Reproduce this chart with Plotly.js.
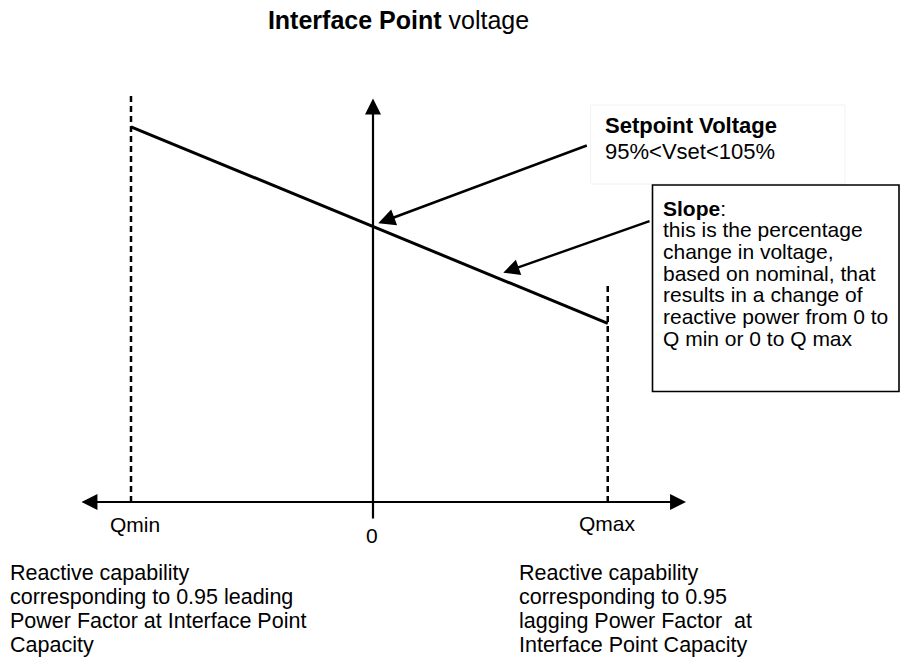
<!DOCTYPE html>
<html>
<head>
<meta charset="utf-8">
<script src="https://cdn.plot.ly/plotly-3.0.1.min.js"></script>
<style>html,body{margin:0;padding:0;background:#fff;}#chart{width:901px;height:661px;}</style>
</head>
<body>
<div id="chart"></div>
<script>
// ---- data (schematic units: Q normalised to |Qmin| = 1, V normalised to Vset = 1) ----
const qPoints = [-1, 0, 0.97];          // Qmin, 0, Qmax
const vPoints = [1.363, 1.0, 0.649];    // voltage on droop line
const qLimits = [-1, 0.97];             // Qmin, Qmax guide positions
const guideTops = [1.478, 0.788];       // top of dashed guides
const axisLabels = ['Qmin', '0', 'Qmax'];
const titleText = '<b>Interface Point</b> voltage';
const setpointLines = ['<b>Setpoint Voltage</b>', '95%&lt;Vset&lt;105%'];
const slopeLines = ['<b>Slope</b>:', 'this is the percentage', 'change in voltage,',
  'based on nominal, that', 'results in a change of', 'reactive power from 0 to', 'Q min or 0 to Q max'];
const leftNote = ['Reactive capability', 'corresponding to 0.95 leading', 'Power Factor at Interface Point', 'Capacity'];
const rightNote = ['Reactive capability', 'corresponding to 0.95', 'lagging Power Factor  at', 'Interface Point Capacity'];

const W = 901, H = 661;
const px = x => x / W;
const py = y => 1 - y / H;
const FONT = 'Liberation Sans, Arial, sans-serif';

const traces = [
  { x: qPoints, y: vPoints, mode: 'lines', line: { color: '#000', width: 3 }, hoverinfo: 'skip' },
  { x: [qLimits[0], qLimits[0]], y: [0, guideTops[0]], mode: 'lines', line: { color: '#000', width: 2.5, dash: '6px,4px' }, hoverinfo: 'skip' },
  { x: [qLimits[1], qLimits[1]], y: [0, guideTops[1]], mode: 'lines', line: { color: '#000', width: 2.5, dash: '6px,4px' }, hoverinfo: 'skip' }
];

const ann = [];
function txt(text, x, y, size, anchor) {
  ann.push({ text: text, xref: 'paper', yref: 'paper', x: px(x), y: py(y), xanchor: anchor || 'left', yanchor: 'middle',
    showarrow: false, borderpad: 0, borderwidth: 0, font: { family: FONT, size: size, color: '#000' } });
}
function arrow(x, y, ax, ay, width, size, side) {
  ann.push({ text: '', x: x, y: y, ax: ax, ay: ay, xref: 'x', yref: 'y', axref: 'x', ayref: 'y',
    showarrow: true, arrowhead: 2, arrowsize: size, arrowwidth: width, arrowcolor: '#000',
    arrowside: side || 'end', standoff: 0, startstandoff: 0, startarrowhead: 2, startarrowsize: size });
}
// axes
arrow(1.2934, 0, -1.2107, 0, 2.2, 1.45, 'end+start');
arrow(0, 1.4657, 0, -0.0654, 2.2, 1.45, 'end');
// pointer arrows
arrow(0.0219, 1.0124, 0.8897, 1.2968, 2.6, 1.3, 'end');
arrow(0.5384, 0.8329, 1.1488, 1.0225, 2.4, 1.35, 'end');

// axis labels
txt(axisLabels[0], 135, 524, 21, 'center');
txt(axisLabels[1], 371.5, 535, 21, 'center');
txt(axisLabels[2], 607, 523, 21, 'center');
// setpoint
txt(setpointLines[0], 605, 125.5, 22);
txt(setpointLines[1], 605, 151, 22);
// slope box text
slopeLines.forEach((t, i) => txt(t, 663, 208.3 + i * 21.67, 21));
// notes
leftNote.forEach((t, i) => txt(t, 10, 573 + i * 24, 21.5));
rightNote.forEach((t, i) => txt(t, 519, 573 + i * 24, 21.5));

const layout = {
  width: W, height: H,
  margin: { l: 0, r: 0, t: 0, b: 0 },
  paper_bgcolor: '#fff', plot_bgcolor: '#fff',
  showlegend: false, hovermode: false,
  title: { text: titleText, x: px(398.5), xanchor: 'center', xref: 'paper', y: 1 - 20.5 / H, yanchor: 'middle', yref: 'container',
    font: { family: FONT, size: 25, color: '#000' } },
  xaxis: { visible: false, range: [-373 / 242, (W - 373) / 242], fixedrange: true },
  yaxis: { visible: false, range: [-(H - 502) / 275.3, 502 / 275.3], fixedrange: true },
  shapes: [
    { type: 'rect', xref: 'paper', yref: 'paper', x0: px(590.5), x1: px(845), y0: py(184), y1: py(105),
      line: { color: '#f2f2f2', width: 1 }, fillcolor: 'rgba(0,0,0,0)', layer: 'below' },
    { type: 'rect', xref: 'paper', yref: 'paper', x0: px(652.5), x1: px(899), y0: py(391.5), y1: py(185),
      line: { color: '#000', width: 1.6 }, fillcolor: '#fff', layer: 'below' }
  ],
  annotations: ann
};

Plotly.newPlot('chart', traces, layout, { displayModeBar: false, staticPlot: true });
</script>
</body>
</html>
